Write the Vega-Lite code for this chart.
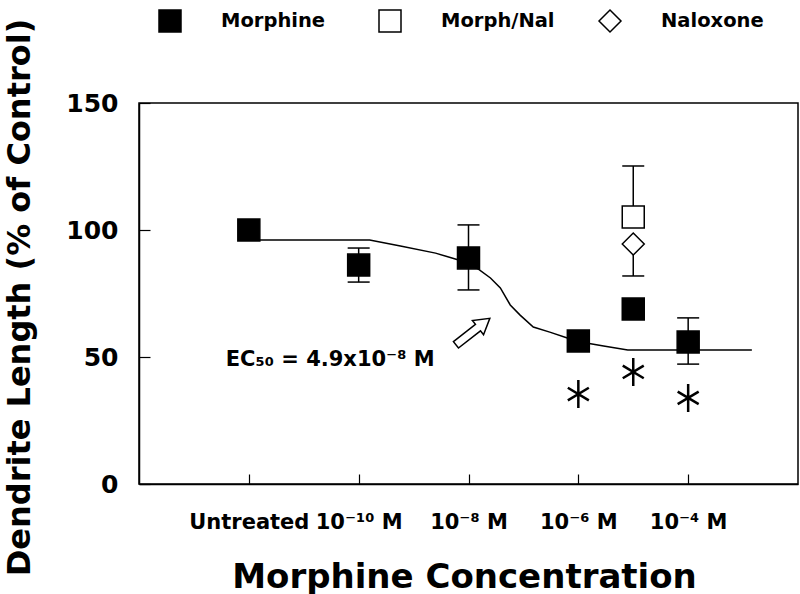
{
  "$schema": "https://vega.github.io/schema/vega-lite/v6.json",
  "width": 659,
  "height": 381,
  "autosize": {"type": "none"},
  "padding": {"left": 139, "top": 103, "right": 2, "bottom": 110},
  "background": "white",
  "config": {
    "view": {"stroke": "black", "strokeWidth": 1.5},
    "font": "DejaVu Sans",
    "axis": {"domainColor": "black", "tickColor": "black", "labelColor": "black", "titleColor": "black", "grid": false, "domainWidth": 1.5, "tickWidth": 1.2}
  },
  "datasets": {
    "curve": [
      {"x": 1, "y": 96.1}, {"x": 2.1, "y": 96.1}, {"x": 2.38, "y": 93.7}, {"x": 2.7, "y": 90.9},
      {"x": 2.91, "y": 88.2}, {"x": 3.09, "y": 84.6}, {"x": 3.2, "y": 81.1}, {"x": 3.29, "y": 77.2},
      {"x": 3.38, "y": 70.5}, {"x": 3.47, "y": 66.5}, {"x": 3.59, "y": 61.8}, {"x": 3.74, "y": 59.8},
      {"x": 3.9, "y": 57.5}, {"x": 4.02, "y": 55.9}, {"x": 4.23, "y": 54.3}, {"x": 4.45, "y": 52.8},
      {"x": 5.58, "y": 52.8}
    ],
    "errors": [
      {"x": 2, "lo": 79.5, "hi": 92.9}, {"x": 3, "lo": 76.4, "hi": 102.0},
      {"x": 4.5, "lo": 105.1, "hi": 125.2}, {"x": 4.5, "lo": 81.9, "hi": 94.5},
      {"x": 5, "lo": 47.2, "hi": 65.4}
    ],
    "caps": [
      {"x": 2, "y": 92.9}, {"x": 2, "y": 79.5}, {"x": 3, "y": 102.0}, {"x": 3, "y": 76.4},
      {"x": 4.5, "y": 125.2}, {"x": 4.5, "y": 81.9}, {"x": 5, "y": 65.4}, {"x": 5, "y": 47.2}
    ],
    "points": [
      {"x": 1, "y": 100, "series": "Morphine"},
      {"x": 2, "y": 86.2, "series": "Morphine"},
      {"x": 3, "y": 89.0, "series": "Morphine"},
      {"x": 4, "y": 56.3, "series": "Morphine"},
      {"x": 4.5, "y": 68.9, "series": "Morphine"},
      {"x": 5, "y": 55.9, "series": "Morphine"},
      {"x": 4.5, "y": 105.1, "series": "Morph/Nal"},
      {"x": 4.5, "y": 94.5, "series": "Naloxone"}
    ],
    "stars": [
      {"x": 4, "y": 35.4}, {"x": 4.5, "y": 44.1}, {"x": 5, "y": 33.9}
    ],
    "arrow": [{"x": 3.04, "y": 60}],
    "notes": [{"x": 0.79, "y": 48.8, "text": "EC₅₀ = 4.9x10⁻⁸ M"}]
  },
  "layer": [
    {
      "data": {"name": "curve"},
      "mark": {"type": "line", "color": "black", "strokeWidth": 1.5},
      "encoding": {
        "x": {
          "field": "x", "type": "quantitative",
          "scale": {"domain": [0, 6], "nice": false, "zero": false},
          "axis": {
            "values": [1, 2, 3, 4, 5],
            "labelExpr": "datum.value == 1 ? 'Untreated' : datum.value == 2 ? '10⁻¹⁰ M' : datum.value == 3 ? '10⁻⁸ M' : datum.value == 4 ? '10⁻⁶ M' : '10⁻⁴ M'",
            "tickSize": -10,
            "labelPadding": 37,
            "labelFontSize": 21,
            "labelFontWeight": "bold",
            "labelFont": "DejaVu Sans",
            "title": "Morphine Concentration",
            "titleFontSize": 34,
            "titleFontWeight": "bold",
            "titleFont": "DejaVu Sans",
            "titleBaseline": "alphabetic",
            "titleX": 325,
            "titleY": 103,
            "titleAnchor": "middle"
          }
        },
        "y": {
          "field": "y", "type": "quantitative",
          "scale": {"domain": [0, 150], "nice": false},
          "axis": {
            "values": [0, 50, 100, 150],
            "tickSize": -11,
            "labelPadding": 32,
            "labelFontSize": 25,
            "labelFontWeight": "bold",
            "labelFont": "DejaVu Sans",
            "title": "Dendrite Length (% of Control)",
            "titleFontSize": 32,
            "titleFontWeight": "bold",
            "titleFont": "DejaVu Sans",
            "titleAngle": -90,
            "titleBaseline": "alphabetic",
            "titleAlign": "center",
            "titleX": -110,
            "titleY": 194
          }
        }
      }
    },
    {
      "data": {"name": "errors"},
      "mark": {"type": "rule", "color": "black", "strokeWidth": 1.5},
      "encoding": {
        "x": {"field": "x", "type": "quantitative"},
        "y": {"field": "lo", "type": "quantitative"},
        "y2": {"field": "hi"}
      }
    },
    {
      "data": {"name": "caps"},
      "mark": {"type": "tick", "orient": "horizontal", "color": "black", "size": 22, "thickness": 1.5, "opacity": 1},
      "encoding": {
        "x": {"field": "x", "type": "quantitative"},
        "y": {"field": "y", "type": "quantitative"}
      }
    },
    {
      "data": {"name": "points"},
      "mark": {"type": "point", "filled": true, "stroke": "black", "strokeWidth": 1.5, "size": 484, "opacity": 1},
      "encoding": {
        "x": {"field": "x", "type": "quantitative"},
        "y": {"field": "y", "type": "quantitative"},
        "shape": {
          "field": "series", "type": "nominal",
          "scale": {"domain": ["Morphine", "Morph/Nal", "Naloxone"], "range": ["square", "square", "diamond"]},
          "legend": {
            "orient": "none", "legendX": 19, "legendY": -94, "direction": "horizontal", "columns": 3,
            "gridAlign": "all", "title": null, "symbolSize": 484, "labelFontSize": 19.5, "labelFont": "DejaVu Sans",
            "labelFontWeight": "bold", "labelColor": "black", "labelOffset": 39, "columnPadding": 41,
            "symbolStrokeColor": "black", "symbolStrokeWidth": 1.5, "symbolOpacity": 1, "padding": 0,
            "encode": {"symbols": {"update": {"stroke": {"value": "black"}, "strokeWidth": {"value": 1.5}}}}
          }
        },
        "fill": {
          "field": "series", "type": "nominal",
          "scale": {"domain": ["Morphine", "Morph/Nal", "Naloxone"], "range": ["black", "white", "white"]},
          "legend": {
            "orient": "none", "legendX": 19, "legendY": -94, "direction": "horizontal", "columns": 3,
            "gridAlign": "all", "title": null, "symbolSize": 484, "labelFontSize": 19.5, "labelFont": "DejaVu Sans",
            "labelFontWeight": "bold", "labelColor": "black", "labelOffset": 39, "columnPadding": 41,
            "symbolStrokeColor": "black", "symbolStrokeWidth": 1.5, "symbolOpacity": 1, "padding": 0,
            "encode": {"symbols": {"update": {"stroke": {"value": "black"}, "strokeWidth": {"value": 1.5}}}}
          }
        }
      }
    },
    {
      "data": {"name": "stars"},
      "mark": {"type": "point", "shape": "M0,-1L0,1M-0.75,-0.45L0.75,0.45M-0.75,0.45L0.75,-0.45", "size": 784, "filled": false, "stroke": "black", "strokeWidth": 2.5, "opacity": 1},
      "encoding": {
        "x": {"field": "x", "type": "quantitative"},
        "y": {"field": "y", "type": "quantitative"}
      }
    },
    {
      "data": {"name": "arrow"},
      "mark": {"type": "point", "shape": "M-1,-0.19L0.3,-0.19L0.3,-0.42L1,0L0.3,0.42L0.3,0.19L-1,0.19Z", "size": 1849, "angle": -38, "filled": true, "fill": "white", "stroke": "black", "strokeWidth": 1.5, "opacity": 1},
      "encoding": {
        "x": {"field": "x", "type": "quantitative"},
        "y": {"field": "y", "type": "quantitative"}
      }
    },
    {
      "data": {"name": "notes"},
      "mark": {"type": "text", "align": "left", "baseline": "middle", "fontSize": 21, "fontWeight": "bold", "font": "DejaVu Sans", "color": "black"},
      "encoding": {
        "x": {"field": "x", "type": "quantitative"},
        "y": {"field": "y", "type": "quantitative"},
        "text": {"field": "text"}
      }
    }
  ]
}
